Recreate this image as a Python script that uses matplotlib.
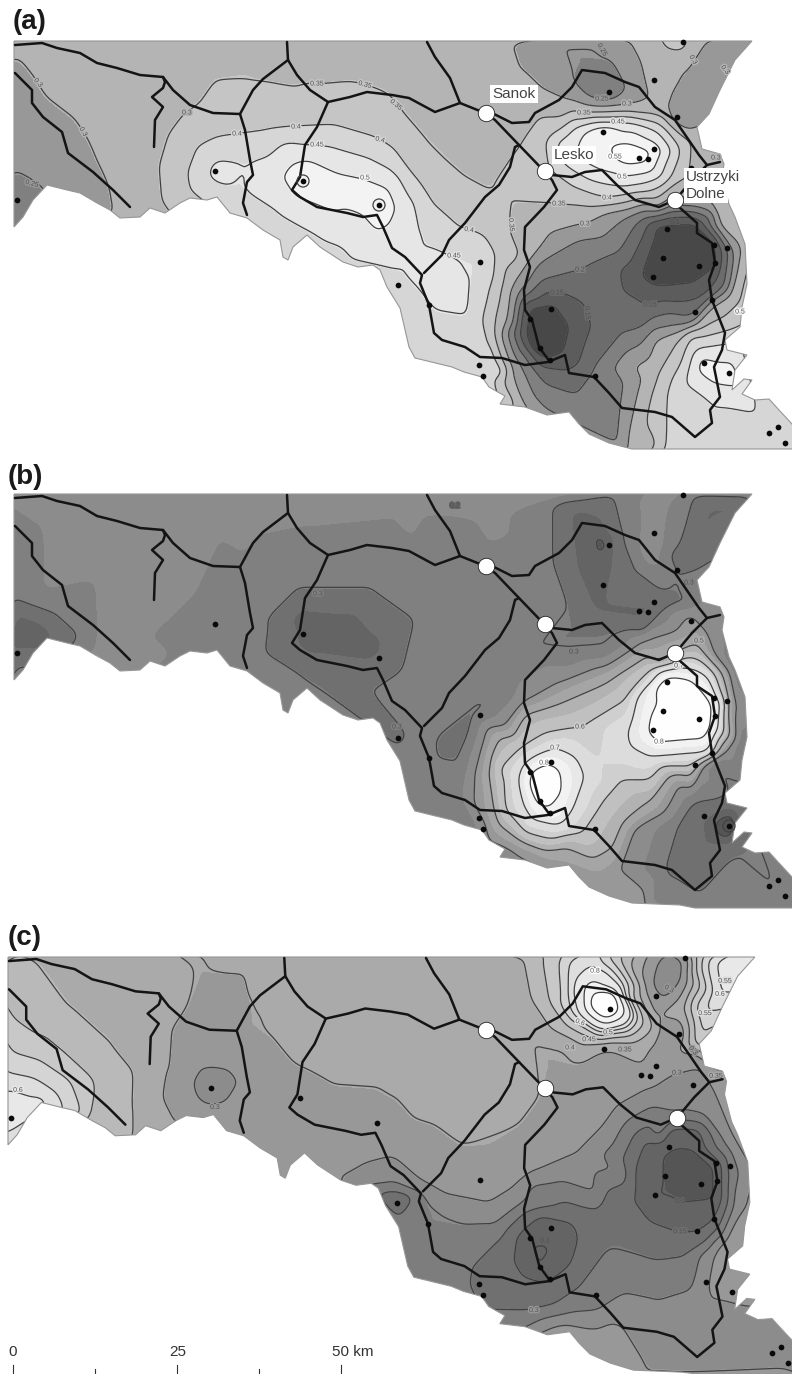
import numpy as np
import matplotlib
matplotlib.use("Agg")
import matplotlib.pyplot as plt
import matplotlib.tri as mtri
import matplotlib.patheffects as pe
from matplotlib.patches import Polygon

plt.rcParams['font.family'] = ['Liberation Sans', 'DejaVu Sans']

# limite de la carte, en pixels du panneau (a)
limite = [(14,41),(752,41),(735,60),(720,90),(709,114),(697,127),(702,149),(720,154),(724,164),(722,177),
          (729,204),(735,217),(745,244),(747,284),(742,307),(740,327),(725,340),(727,350),(747,355),(735,370),
          (732,390),(744,379),(752,380),(742,394),(755,400),(769,399),(779,410),(792,424),(800,440),(800,470),
          (695,470),(680,452),(632,450),(609,443),(589,434),(579,424),(569,412),(547,415),(525,407),(500,404),
          (505,396),(489,387),(482,377),(464,372),(452,367),(415,358),(409,347),(400,308),(387,287),(380,270),
          (373,265),(358,267),(343,262),(320,247),(307,235),(293,247),(288,260),(283,257),(280,240),(263,230),
          (247,218),(230,213),(217,197),(207,200),(190,198),(180,203),(165,213),(150,208),(140,217),(120,218),
          (110,210),(97,203),(80,193),(67,190),(47,185),(33,200),(23,217),(14,227)]

# routes
routes = [
    [(15,45),(42,43),(57,48),(80,53),(97,63),(117,68),(140,75),(163,77),(173,90),(190,105),(213,113),(240,114),
     (253,90),(263,79),(288,60),(287,42)],
    [(163,77),(165,82),(163,88),(152,97),(163,107),(155,120),(154,147)],
    [(15,73),(32,90),(32,103),(43,117),(62,132),(68,153),(93,172),(113,190),(130,207)],
    [(240,114),(245,130),(250,160),(253,175),(247,182),(243,203),(247,215)],
    [(288,60),(297,75),(310,90),(328,102),(350,97),(367,92),(392,95),(409,98),(435,112),(460,103),(485,113)],
    [(427,42),(435,57),(450,78),(460,103)],
    [(328,102),(317,127),(305,145),(300,177),(292,190),(300,197),(317,207),(347,213),(363,217),(377,215),(383,227),
     (392,248),(405,257),(422,275),(420,283),(429,305),(434,333),(442,340),(465,347),(480,357),(502,358),(525,365),
     (548,362),(565,355),(569,373),(594,377),(609,393),(622,408),(655,412),(672,417),(695,437),(712,423),(710,410),
     (720,397),(714,367),(722,350),(725,333),(712,300),(709,280),(715,263),(712,243),(697,233),(697,223),(679,207),
     (675,200),(659,207),(635,200),(619,187),(602,170),(585,172),(572,177),(552,175),(544,172)],
    [(545,172),(519,145),(495,120),(485,113)],
    [(545,172),(552,180),(557,190),(544,207),(525,227),(524,250),(530,267),(524,290),(525,310),(532,320),(539,347),
     (550,362)],
    [(519,145),(515,147),(510,167),(499,185),(485,197),(465,223),(449,240),(442,255),(424,273)],
    [(492,113),(512,123),(529,122),(535,113),(559,100),(572,87),(582,70),(605,73),(625,82),(639,87),(655,107),
     (675,120),(699,155),(707,165),(720,162)],
    [(707,165),(692,180),(682,192),(675,200)],
]

# stations de mesure
stations_x = [215,303,379,17,398,683,654,609,677,603,654,639,648,667,663,653,699,714,727,715,712,695,480,
              551,530,540,550,479,483,704,729,778,769,785,595,429,691]
stations_y = [171,181,205,200,285,42,80,92,117,132,149,158,159,229,258,277,266,245,248,263,300,312,262,
              309,319,348,360,365,376,363,373,427,433,443,376,305,168]

# villes
villes_x = [486,545,675]
villes_y = [113,171,200]

champ_a = [
    (0.22,[(14,205),(-10,300)]),(0.25,[(14,172),(30,180),(42,188)]),
    (0.28,[(14,100),(30,130),(60,160),(85,185)]),
    (0.3,[(17,57),(33,77),(45,97),(75,120),(90,143),(100,167),(110,190),(113,208)]),
    (0.33,[(60,50),(150,50),(250,50),(400,50),(470,60),(120,150),(130,200),(90,80),(160,100),(-10,20),(300,20),
           (515,130),(500,150),(530,110),(460,90),(330,70)]),
    (0.35,[(163,203),(160,167),(170,133),(185,113),(200,103),(217,78),(247,68),(257,80),(297,88),(310,83),(347,80),
           (367,85),(387,93),(400,105),(402,113),(425,140),(442,157),(465,177),(489,190),(507,197),(511,207),(510,233),
           (520,257),(502,290),(495,333),(502,383),(514,410)]),
    (0.375,[(175,170),(215,115),(300,105),(370,110),(420,165),(470,200),(490,215),(525,165),(540,140)]),
    (0.4,[(203,200),(190,190),(187,173),(197,147),(217,137),(237,134),(267,130),(293,127),(333,125),(377,138),(392,147),
          (409,170),(432,203),(459,227),(469,230),(485,237),(495,255),(490,290),(489,340),(495,375),(505,400)]),
    (0.43,[(240,205),(280,250),(340,270),(400,300),(430,340),(470,360),(210,190),(420,200)]),
    (0.45,[(210,170),(217,160),(248,163),(267,157),(305,145),(333,147),(367,157),(392,170),(409,197),(419,227),(425,243),
           (442,250),(454,256),(479,253),(484,267),(472,287),(470,317),(485,353),(500,375),(210,177),(227,187),(247,192),
           (280,213),(310,230),(330,243),(400,270)]),
    (0.475,[(290,150),(400,235),(440,275),(215,172),(350,225)]),
    (0.5,[(280,177),(290,163),(307,158),(337,172),(367,178),(390,187),(398,207),(390,227),(377,233),(333,213),(293,197)]),
    (0.525,[(340,192),(310,178),(375,205)]),
    # tache du nord-est
    (0.35,[(539,117),(584,113),(625,112),(655,115),(679,133),(689,157),(679,180),(645,197),(592,207),(559,204)]),
    (0.4,[(549,157),(555,133),(589,117),(625,115),(659,123),(679,147),(672,177),(645,193),(607,198),(575,187),(552,170)]),
    (0.45,[(555,143),(575,127),(622,122),(659,132),(672,150),(662,177),(625,187),(589,180),(562,163)]),
    (0.5,[(579,140),(632,130),(655,143),(655,163),(625,177),(599,170),(575,157)]),
    (0.55,[(597,135),(604,132),(625,143),(654,150),(649,163),(612,157),(602,152)]),
    (0.6,[(625,152)]),
    (0.3,[(514,42),(522,67),(542,87),(572,100),(599,107),(627,104),(649,98),(640,60),(630,42)]),
    (0.25,[(560,42),(572,80),(590,97),(609,100),(625,90),(610,60),(589,42)]),
    (0.18,[(609,90)]),(0.33,[(655,60),(660,90)]),(0.37,[(683,42),(670,30)]),
    (0.3,[(705,42),(685,73),(669,110),(740,30)]),(0.25,[(725,70),(692,100),(679,117)]),(0.28,[(750,45)]),
    (0.3,[(720,125),(720,165)]),(0.33,[(697,140)]),
    # sud-est
    (0.3,[(685,200),(659,207),(585,224),(552,233),(515,283),(509,317),(512,367),(522,400),(532,413)]),
    (0.25,[(669,207),(625,218),(579,240),(539,263),(519,293),(515,320),(520,363),(535,397),(550,413)]),
    (0.2,[(645,217),(619,253),(580,270),(542,280),(525,297),(520,320),(525,353),(545,383),(575,393),(592,370),(622,333),
          (692,317),(712,296)]),
    (0.15,[(525,300),(557,293),(582,303),(590,327),(579,363),(565,370),(542,367),(525,347),(520,320)]),
    (0.15,[(622,267),(645,233),(669,217),(702,223),(722,253),(719,277),(709,293),(650,305),(625,290)]),
    (0.1,[(652,227),(640,277),(655,287),(692,283),(715,267),(712,240),(695,223)]),
    (0.06,[(667,233),(682,263),(699,266),(712,258),(703,240)]),
    (0.1,[(529,307),(552,303),(569,327),(562,353),(542,358),(525,333)]),
    (0.04,[(537,337),(545,340),(544,346),(536,345)]),(0.175,[(605,305)]),
    (0.2,[(712,215),(728,250),(725,285)]),(0.25,[(700,208),(733,250),(728,290)]),
    (0.3,[(690,200),(710,205),(738,250),(730,295),(712,305)]),(0.35,[(700,190),(725,225),(745,260),(735,305),(700,328)]),
    (0.25,[(675,325),(640,345),(625,383),(620,447)]),(0.3,[(680,332),(655,340),(632,367),(625,447)]),
    (0.35,[(679,340),(659,373),(659,447)]),(0.4,[(689,336),(665,400),(662,447),(640,480)]),
    (0.45,[(699,347),(685,383),(692,447)]),(0.53,[(704,363),(729,373),(715,372)]),(0.45,[(715,405)]),
    (0.42,[(770,430),(745,330),(810,450),(810,300),(810,20),(-10,480),(400,480),(800,480)]),
]

champ_b = [
    (0.2,[(14,180),(30,180)]),(0.3,[(14,147),(50,160),(78,185),(50,212),(14,210)]),
    (0.36,[(50,60),(100,120),(150,150),(250,70),(-10,20),(200,40),(50,130),(100,195),(400,50),(500,60),(300,60),(-10,300)]),
    (0.34,[(200,170),(450,70),(420,120),(460,150),(240,130),(240,205),(450,200),(480,120),(520,100),(530,140),(430,230),
           (400,260)]),
    (0.3,[(270,167),(300,137),(370,137),(412,167),(400,217),(370,237),(310,227)]),
    (0.23,[(300,165),(330,190),(370,195),(310,190),(350,170)]),
    (0.295,[(475,262),(440,290),(442,304),(470,280)]),
    (0.33,[(412,280),(415,317),(425,350),(475,374),(400,300)]),(0.26,[(398,284)]),
    # nord-est
    (0.3,[(555,50),(555,110),(569,150),(592,170),(625,177),(652,167),(660,140),(635,117),(622,84),(612,42)]),
    (0.24,[(582,117),(599,157),(645,163),(655,147),(609,110),(600,70),(575,60)]),(0.18,[(605,92)]),
    (0.38,[(655,50),(650,100),(683,30),(600,30)]),
    (0.3,[(695,42),(682,90),(679,120),(750,45)]),(0.24,[(709,60),(685,104),(735,54)]),
    (0.35,[(700,130),(700,150),(722,165)]),
    # sud
    (0.3,[(515,207),(535,195),(574,199),(605,197),(645,180),(689,154),(505,237),(460,310),(452,344),(455,370)]),
    (0.4,[(524,250),(559,230),(599,214),(645,187),(689,160),(505,274),(482,294),(475,320),(490,385),(522,400),(549,414),
          (619,414),(632,377),(680,330),(700,312),(704,180)]),
    (0.5,[(659,210),(605,230),(559,250),(525,260),(499,284),(489,324),(495,357),(515,384),(542,397),(565,394),(615,394),
          (625,370),(649,350),(705,307),(700,195)]),
    (0.6,[(652,217),(629,244),(580,274),(545,280),(522,294),(499,317),(505,357),(525,380),(552,387),(582,380),(602,350),
          (622,327),(692,314),(710,304)]),
    (0.7,[(525,310),(519,327),(525,354),(549,370),(560,372),(572,357),(584,324),(575,304),(555,295)]),
    (0.8,[(549,310),(559,317),(560,340),(552,360),(539,354),(529,330),(532,317)]),(0.95,[(545,335)]),
    (0.7,[(629,277),(635,244),(659,217),(679,214),(709,224),(722,250),(719,277),(709,300),(652,304),(632,294)]),
    (0.8,[(657,234),(669,224),(692,227),(712,250),(710,277),(659,289),(649,280),(652,264),(659,250)]),
    (0.95,[(680,255),(665,270),(695,265),(670,240)]),(0.65,[(600,310)]),
    # est et sud-est
    (0.5,[(700,190),(728,240),(722,290)]),(0.4,[(712,200),(732,250),(728,295)]),
    (0.3,[(735,215),(742,290),(740,325),(712,310),(692,350),(679,370),(665,417),(659,450)]),
    (0.25,[(704,367),(712,390),(700,400)]),(0.13,[(729,374)]),(0.3,[(725,345),(745,352),(735,400),(775,434)]),
    (0.43,[(620,440),(640,445),(600,425),(560,412)]),(0.38,[(505,396)]),(0.33,[(430,320),(440,365)]),
    (0.35,[(810,300),(810,20),(810,480),(400,480),(-10,480),(700,480),(752,100)]),
]

champ_c = [
    (0.62,[(10,180),(33,188),(42,185)]),(0.66,[(-10,195),(12,195)]),(0.55,[(12,156),(33,160),(57,176),(65,193)]),
    (0.5,[(12,135),(40,143),(70,163),(82,196)]),(0.45,[(12,100),(57,130),(93,163),(103,203)]),
    (0.42,[(14,70),(50,105),(95,200)]),
    (0.4,[(37,45),(70,90),(110,126),(133,190),(133,220)]),(0.45,[(-10,60)]),(0.43,[(15,50)]),
    (0.38,[(100,60),(150,150),(150,200),(160,90),(250,50),(350,50),(450,60),(300,20),(400,130),(330,130),(450,150),(500,130),
           (20,30)]),
    (0.35,[(173,110),(163,180),(175,203),(187,90),(193,50),(203,42),(213,55),(247,55),(250,87),(240,113),(260,103),(273,123),
           (293,147),(307,153),(333,167),(377,170),(392,180),(412,203),(435,210),(462,230),(492,233),(519,210),(539,183),
           (555,160),(579,146),(605,131)]),
    (0.33,[(210,100),(215,140),(240,195),(230,80),(290,200),(340,220),(300,170)]),
    (0.24,[(212,170)]),(0.3,[(195,165),(203,152),(212,150),(225,153),(235,165),(225,182),(212,187),(200,180)]),
    (0.3,[(343,260),(367,246),(392,240),(422,266),(442,277),(489,286),(515,270),(532,256),(579,236),(605,210),(619,190),
          (652,172),(677,156),(700,150)]),
    (0.25,[(425,276),(449,296),(465,306),(495,306),(522,286),(532,266),(559,263),(599,276),(619,250),(660,210),(680,195)]),
    (0.2,[(398,295),(472,350),(502,320),(525,293),(549,290),(605,273),(622,243),(635,216),(652,206),(469,366),(482,390),
          (529,391),(552,386),(575,370),(605,330),(615,320),(655,340),(685,336),(709,320)]),
    (0.12,[(398,286)]),(0.25,[(440,365),(520,410),(420,315),(395,265)]),
    (0.15,[(635,280),(634,253),(645,223),(669,210),(699,210),(722,246),(722,280),(714,303),(699,313),(680,313),(652,303)]),
    (0.1,[(654,278),(664,260),(664,236),(679,230),(695,233),(715,250),(715,280),(682,283)]),(0.05,[(690,258)]),
    (0.15,[(515,340),(517,318),(542,296),(569,303),(577,320),(569,346),(549,361),(525,356)]),
    (0.1,[(530,323),(549,323),(552,336),(540,353),(529,336)]),(0.175,[(600,300)]),
    (0.25,[(575,392),(599,390),(625,373),(659,380),(692,370),(712,323)]),
    (0.3,[(652,453),(685,406),(709,376),(714,336)]),(0.33,[(600,420),(560,412)]),
    (0.35,[(725,360),(730,330),(745,355)]),(0.28,[(775,434),(810,450),(760,400)]),(0.3,[(740,290),(735,225),(750,250)]),
    (0.2,[(728,260)]),(0.25,[(733,240),(705,200)]),
    # tache du nord
    (0.4,[(524,41),(532,83),(552,113),(582,128),(632,125),(655,110)]),
    (0.35,[(480,41),(492,66),(509,100),(532,123),(565,130),(652,128),(659,113)]),
    (0.45,[(542,41),(549,83),(569,110),(599,123),(632,118),(642,100),(632,83),(619,43)]),
    (0.5,[(560,41),(562,76),(579,106),(609,116),(635,106),(625,80),(609,43)]),(0.55,[(570,42),(600,30)]),
    (0.6,[(575,66),(579,96),(609,113),(632,100),(619,70),(592,50)]),
    (0.7,[(585,80),(595,103),(619,103),(625,90),(605,70)]),
    (0.8,[(592,76),(589,90),(605,103),(619,96),(615,76)]),(1.0,[(606,88)]),
    # coin nord-est
    (0.3,[(659,43),(652,70),(665,83),(682,63),(685,43),(679,117),(669,30)]),(0.25,[(669,60)]),
    (0.35,[(655,100),(697,135),(680,135)]),(0.4,[(692,42),(685,90)]),(0.5,[(700,50),(695,90),(700,125)]),
    (0.6,[(715,45),(720,78)]),(0.7,[(750,42),(810,20)]),(0.55,[(705,97)]),
    (0.33,[(720,160),(810,300)]),(0.35,[(810,480),(400,480),(-10,480),(-10,300),(150,20)]),
]

# niveaux et gris (0-255) de chaque panneau
niv_a = [0,0.1,0.15,0.2,0.25,0.3,0.35,0.4,0.45,0.5,0.55,1.0]
gris_a = [72,92,108,128,152,180,197,214,230,243,253]
traits_a = [0.1,0.15,0.2,0.25,0.3,0.35,0.4,0.45,0.5,0.55]

niv_b = [0,0.2,0.25,0.3,0.35,0.4,0.45,0.5,0.55,0.6,0.65,0.7,0.75,0.8,1.0]
gris_b = [85,100,112,128,140,152,165,178,192,207,220,232,242,254]
traits_b = [0.2,0.3,0.4,0.5,0.6,0.7,0.8]

niv_c = [0,0.1,0.15,0.2,0.25,0.3,0.35,0.4,0.45,0.5,0.55,0.6,0.7,0.8,1.0]
gris_c = [85,100,112,125,140,152,170,185,200,212,222,232,244,254]
traits_c = [0.1,0.15,0.2,0.25,0.3,0.35,0.4,0.45,0.5,0.55,0.6,0.7,0.8]

# etiquettes des isolignes : texte, x, y, angle
labels_a = [("0.25",32,184,-15),("0.3",38,83,-50),("0.3",83,132,-60),("0.3",187,113,0),("0.35",317,84,0),("0.35",365,85,-15),
            ("0.35",396,105,-40),("0.4",296,127,0),("0.4",237,134,0),("0.4",380,140,-15),("0.45",317,145,0),("0.5",365,178,0),
            ("0.35",584,113,0),("0.3",627,104,0),("0.25",602,50,-60),("0.25",602,99,0),("0.45",618,122,0),("0.55",615,157,0),
            ("0.5",622,177,0),("0.4",607,198,0),("0.35",559,204,0),("0.3",585,224,0),("0.2",580,270,0),("0.15",650,305,0),
            ("0.15",557,293,0),("0.15",587,313,-85),("0.45",454,256,0),("0.4",469,230,-10),("0.35",511,225,-85),("0.1",675,222,0),
            ("0.3",693,60,-60),("0.3",725,70,-50),("0.3",716,158,0),("0.5",740,312,0)]
labels_b = [("0.3",318,141,0),("0.2",455,53,0),("0.3",574,199,0),("0.6",580,274,0),("0.7",555,295,0),("0.8",544,310,0),
            ("0.8",659,289,0),("0.5",699,188,0),("0.7",679,213,0),("0.3",397,274,0),("0.3",689,130,0)]
labels_c = [("0.6",18,173,0),("0.3",215,190,0),("0.8",595,55,0),("0.6",580,106,-20),("0.5",608,116,0),("0.45",589,123,0),
            ("0.4",570,131,0),("0.35",625,133,0),("0.55",725,65,0),("0.6",720,78,0),("0.55",705,97,0),("0.3",669,73,-30),
            ("0.3",677,156,0),("0.35",716,159,0),("0.3",693,134,-50),("0.1",680,283,0),("0.15",680,313,0),("0.3",534,391,0),
            ("0.1",545,322,0)]

# petits cercles autour de certaines stations
cercles_a = [(303,181),(379,205)]
cercles_b = [(729,373)]

# echelle
echelle_km = [0,12.5,25,37.5,50]
echelle_x = [13,95,177,259,341]


def gris(v):
    return (v/255, v/255, v/255)


def tx_c(x):
    """Le panneau (c) est un peu plus large que les deux autres"""
    return 8 + (np.asarray(x, dtype=float) - 14)*1.012


def ty_c(y):
    return 957 + (np.asarray(y, dtype=float) - 41)*1.0101


def champ_lisse(champ):
    """Passe des points lus a une grille, puis lisse"""
    points = {}
    for valeur, pts in champ:
        for p in pts:
            points[p] = valeur
    xs = np.array([p[0] for p in points], dtype=float)
    ys = np.array([p[1] for p in points], dtype=float)
    zs = np.array(list(points.values()))
    tri = mtri.Triangulation(xs, ys)
    interp = mtri.LinearTriInterpolator(tri, zs)
    gx = np.arange(0, 801, 2.0)
    gy = np.arange(26, 476, 2.0)
    X, Y = np.meshgrid(gx, gy)
    Z = np.ma.filled(interp(X, Y), 0.35)
    noyau = np.array([1, 2, 3, 4, 3, 2, 1])/16
    Z = np.pad(Z, 3, mode='edge')
    for _ in range(2):
        Z = np.apply_along_axis(lambda l: np.convolve(l, noyau, mode='same'), 0, Z)
        Z = np.apply_along_axis(lambda l: np.convolve(l, noyau, mode='same'), 1, Z)
    return X, Y, Z[3:-3, 3:-3]


def panneau(ax, champ, niv, gr, traits, labels, cercles, fx, fy, bas):
    X, Y, Z = champ_lisse(champ)
    contour = [(fx(x), min(fy(y), bas)) for x, y in limite]
    clip = Polygon(contour, closed=True, transform=ax.transData, fc='none', ec='none')
    ax.add_patch(clip)
    cf = ax.contourf(X, fy(Y), Z, levels=niv, colors=[gris(g) for g in gr], zorder=1)
    cf.set_clip_path(clip)
    cl = ax.contour(X, fy(Y), Z, levels=[t + 0.001 for t in traits], colors=[gris(65)], linewidths=0.9, zorder=2)
    cl.set_clip_path(clip)
    ax.add_patch(Polygon(contour, closed=True, fc='none', ec=gris(150), lw=0.8, zorder=2))

    for texte, x, y, angle in labels:
        g = gr[min(np.searchsorted(niv, float(texte), side='right') - 1, len(gr) - 1)]
        ax.text(x, fy(y), texte, fontsize=5, color=gris(80), rotation=angle, ha='center', va='center', zorder=3,
                path_effects=[pe.withStroke(linewidth=2, foreground=gris(g))])

    for r in routes:
        ax.plot(fx([p[0] for p in r]), fy([p[1] for p in r]), color='#141414', lw=1.8, solid_joinstyle='round',
                solid_capstyle='round', zorder=4)
    ax.scatter(fx(stations_x), fy(stations_y), s=17, color='#0a0a0a', linewidths=0, zorder=5)
    for x, y in cercles:
        ax.scatter(fx(x), fy(y), s=75, facecolors='none', edgecolors=gris(65), linewidths=0.9, zorder=5)
    ax.scatter(fx(villes_x), fy(villes_y), s=140, color='white', edgecolors='#222222', linewidths=0.6, zorder=6)


fig = plt.figure(figsize=(7.92, 13.74), dpi=100)
ax = fig.add_axes([0, 0, 1, 1])
ax.set_xlim(0, 792)
ax.set_ylim(1374, 0)
ax.axis('off')

identite = lambda x: np.asarray(x, dtype=float)
panneau(ax, champ_a, niv_a, gris_a, traits_a, labels_a, cercles_a, identite, lambda y: np.asarray(y, dtype=float), 449)
panneau(ax, champ_b, niv_b, gris_b, traits_b, labels_b, cercles_b, identite, lambda y: np.asarray(y, dtype=float) + 453, 908)
panneau(ax, champ_c, niv_c, gris_c, traits_c, labels_c, [], tx_c, ty_c, 1374)

# lettres des panneaux
ax.text(13, 22, "(a)", fontsize=20, fontweight='bold', color='#1a1a1a', va='center')
ax.text(8, 477, "(b)", fontsize=20, fontweight='bold', color='#1a1a1a', va='center')
ax.text(8, 938, "(c)", fontsize=20, fontweight='bold', color='#1a1a1a', va='center')

# noms des villes
boite = dict(facecolor='white', edgecolor='none', pad=1.5)
ax.text(514, 94, "Sanok", fontsize=11, color='#444444', ha='center', va='center', bbox=boite, zorder=7)
ax.text(574, 155, "Lesko", fontsize=11, color='#444444', ha='center', va='center', bbox=boite, zorder=7)
ax.text(686, 177, "Ustrzyki", fontsize=11, color='#444444', ha='left', va='center', bbox=boite, zorder=7)
ax.text(686, 194, "Dolne", fontsize=11, color='#444444', ha='left', va='center', bbox=boite, zorder=7)

# echelle
for km, x in zip(echelle_km, echelle_x):
    haut = 1365 if km in (0, 25, 50) else 1369
    ax.plot([x, x], [haut, 1374], color='#333333', lw=0.8)
ax.text(13, 1352, "0", fontsize=11, color='#333333', ha='center', va='center')
ax.text(178, 1352, "25", fontsize=11, color='#333333', ha='center', va='center')
ax.text(332, 1352, "50 km", fontsize=11, color='#333333', ha='left', va='center')

fig.savefig("out.png", dpi=100)
